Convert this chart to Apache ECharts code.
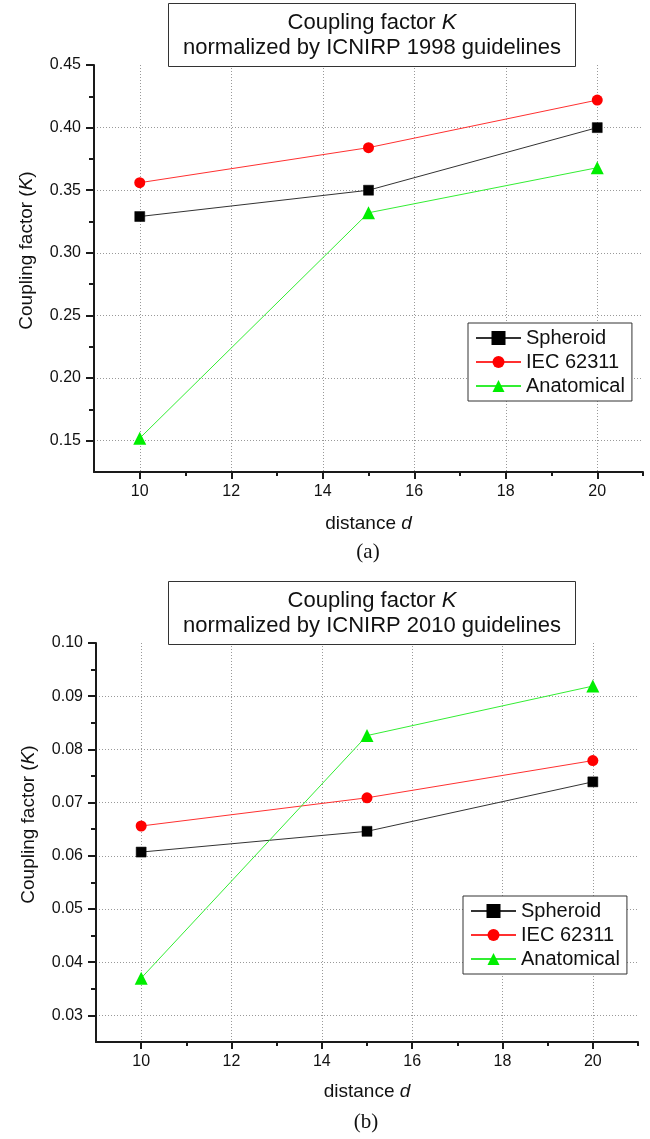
<!DOCTYPE html>
<html><head><meta charset="utf-8">
<script src="https://cdn.jsdelivr.net/npm/echarts@6/dist/echarts.min.js"></script>
<style>html,body{margin:0;padding:0;background:#fff}#c{width:650px;height:1139px}</style>
</head><body><div id="c"></div>
<script>
// ---- data ----
const distances = [10, 15, 20];
const seriesNames = ['Spheroid', 'IEC 62311', 'Anatomical'];
const k1998Spheroid   = [0.329, 0.350, 0.400];
const k1998IEC        = [0.356, 0.384, 0.422];
const k1998Anatomical = [0.152, 0.332, 0.368];
const k2010Spheroid   = [0.0607, 0.0646, 0.0739];
const k2010IEC        = [0.0656, 0.0709, 0.0779];
const k2010Anatomical = [0.0370, 0.0826, 0.0919];
const xMajorTicks = [10, 12, 14, 16, 18, 20];
const xMinorTicks = [11, 13, 15, 17, 19, 21];
const yMajor1998 = [0.15, 0.20, 0.25, 0.30, 0.35, 0.40, 0.45];
const yMinor1998 = [0.175, 0.225, 0.275, 0.325, 0.375, 0.425];
const yGrid1998  = [0.15, 0.20, 0.25, 0.30, 0.35, 0.40];
const yMajor2010 = [0.03, 0.04, 0.05, 0.06, 0.07, 0.08, 0.09, 0.10];
const yMinor2010 = [0.035, 0.045, 0.055, 0.065, 0.075, 0.085, 0.095];
const yGrid2010  = [0.03, 0.04, 0.05, 0.06, 0.07, 0.08, 0.09];

const FONT = 'Liberation Sans, Arial, sans-serif';
const AX = '#1a1a1a';
const chart = echarts.init(document.getElementById('c'), null, {renderer: 'canvas'});

function xAxes(gridIndex, nameGap) {
  return [
    {type: 'value', gridIndex, min: 9, max: 21, position: 'bottom',
     name: 'distance {i|d}', nameLocation: 'middle', nameGap,
     nameTextStyle: {fontFamily: FONT, fontSize: 19, color: '#111', rich: {i: {fontStyle: 'italic', fontFamily: FONT, fontSize: 19}}},
     axisLine: {show: true, onZero: false, lineStyle: {color: AX, width: 2}},
     axisTick: {show: true, length: 7, customValues: xMajorTicks, lineStyle: {color: AX, width: 2}},
     axisLabel: {customValues: xMajorTicks, margin: 12, fontFamily: FONT, fontSize: 16, color: '#111'},
     splitLine: {show: true, lineStyle: {color: '#999', width: 1, type: [1, 2]}}},
    {type: 'value', gridIndex, min: 9, max: 21, position: 'bottom',
     axisLine: {show: false, onZero: false},
     axisTick: {show: true, length: 4, customValues: xMinorTicks, lineStyle: {color: AX, width: 2}},
     axisLabel: {show: false}, splitLine: {show: false}}
  ];
}
function yAxes(gridIndex, min, max, major, minor, gridVals) {
  return [
    {type: 'value', gridIndex, min, max, position: 'left',
     axisLine: {show: true, onZero: false, lineStyle: {color: AX, width: 2}},
     axisTick: {show: true, length: 8, customValues: major, lineStyle: {color: AX, width: 2}},
     axisLabel: {customValues: major, margin: 13, fontFamily: FONT, fontSize: 16, color: '#111',
                 formatter: v => Number(v).toFixed(2)},
     splitLine: {show: false}},
    {type: 'value', gridIndex, min, max, position: 'left',
     axisLine: {show: false, onZero: false},
     axisTick: {show: true, length: 5, customValues: minor, lineStyle: {color: AX, width: 2}},
     axisLabel: {show: false}, splitLine: {show: false}},
    {type: 'value', gridIndex, min, max, position: 'left',
     axisLine: {show: false, onZero: false},
     axisTick: {show: false, customValues: gridVals},
     axisLabel: {show: false},
     splitLine: {show: true, lineStyle: {color: '#999', width: 1, type: [1, 2]}}}
  ];
}

const styles = [
  {symbol: 'rect', symbolSize: 10, item: {color: '#000', borderColor: '#000', borderWidth: 0.5}, line: '#333'},
  {symbol: 'circle', symbolSize: 11, item: {color: '#ff0000'}, line: '#ff3030'},
  {symbol: 'triangle', symbolSize: 13, item: {color: '#00ee00'}, line: '#33ee33'}
];
function makeSeries(values, idx, gridNo) {
  const s = styles[idx];
  return {
    type: 'line', name: seriesNames[idx],
    xAxisIndex: gridNo * 2, yAxisIndex: gridNo * 3,
    data: distances.map((d, i) => [d, values[i]]),
    symbol: s.symbol, symbolSize: s.symbolSize, showAllSymbol: true,
    itemStyle: s.item, lineStyle: {color: s.line, width: 1},
    emphasis: {disabled: true}, animation: false, z: 5 + idx
  };
}
function makeLegend(left, top) {
  return {
    orient: 'vertical', left, top, padding: [5, 7], itemGap: 4,
    itemWidth: 45, itemHeight: 15, selectedMode: false,
    backgroundColor: '#fff', borderColor: '#333', borderWidth: 1,
    textStyle: {fontFamily: FONT, fontSize: 20, lineHeight: 20, color: '#111'},
    data: seriesNames, z: 10
  };
}
function makeTitle(top, year) {
  return {
    text: 'Coupling factor {i|K}\nnormalized by ICNIRP ' + year + ' guidelines',
    left: 357, top, textAlign: 'center', padding: [7, 15],
    borderColor: '#333', borderWidth: 1, backgroundColor: '#fff', z: 10,
    textStyle: {fontFamily: FONT, fontSize: 22, fontWeight: 'normal', color: '#111', lineHeight: 25,
                rich: {i: {fontStyle: 'italic', fontFamily: FONT, fontSize: 22, lineHeight: 25, color: '#111'}}}
  };
}

const yNameStyle = {fontFamily: FONT, fontSize: 19, color: '#111', padding: [0, 0, 0, 36],
                    rich: {i: {fontStyle: 'italic', fontFamily: FONT, fontSize: 19}}};
const yA = yAxes(0, 0.125, 0.45, yMajor1998, yMinor1998, yGrid1998);
yA[0].name = 'Coupling factor ({i|K})'; yA[0].nameLocation = 'middle'; yA[0].nameGap = 58; yA[0].nameTextStyle = yNameStyle;
const yB = yAxes(1, 0.025, 0.10, yMajor2010, yMinor2010, yGrid2010);
yB[0].name = 'Coupling factor ({i|K})'; yB[0].nameLocation = 'middle'; yB[0].nameGap = 58; yB[0].nameTextStyle = yNameStyle;

const option = {
  animation: false,
  backgroundColor: '#fff',
  title: [
    makeTitle(3, '1998'),
    makeTitle(581, '2010'),
    {text: '(a)', left: 368, top: 542, textAlign: 'center', padding: 0,
     textStyle: {fontFamily: 'Liberation Serif, Times New Roman, serif', fontSize: 21, fontWeight: 'normal', color: '#111'}},
    {text: '(b)', left: 366, top: 1112, textAlign: 'center', padding: 0,
     textStyle: {fontFamily: 'Liberation Serif, Times New Roman, serif', fontSize: 21, fontWeight: 'normal', color: '#111'}}
  ],
  grid: [
    {left: 94, top: 65, width: 549, height: 407},
    {left: 96, top: 643, width: 542, height: 399}
  ],
  xAxis: [...xAxes(0, 42), ...xAxes(1, 40)],
  yAxis: [...yA, ...yB],
  legend: [makeLegend(468, 323), makeLegend(463, 896)],
  series: [
    makeSeries(k1998Spheroid, 0, 0), makeSeries(k1998IEC, 1, 0), makeSeries(k1998Anatomical, 2, 0),
    makeSeries(k2010Spheroid, 0, 1), makeSeries(k2010IEC, 1, 1), makeSeries(k2010Anatomical, 2, 1)
  ]
};
chart.setOption(option);
</script></body></html>
